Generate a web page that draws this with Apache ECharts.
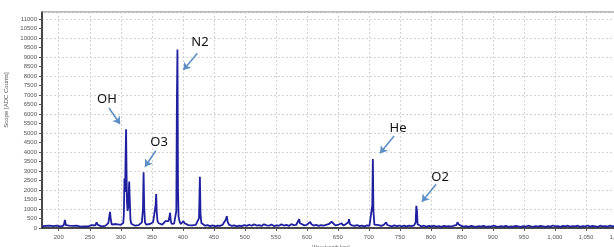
<!DOCTYPE html>
<html>
<head>
<meta charset="utf-8">
<script src="https://cdn.jsdelivr.net/npm/echarts@6/dist/echarts.min.js"></script>
<style>
html, body { margin: 0; padding: 0; background: #ffffff; }
#chart { width: 614px; height: 247px; }
</style>
</head>
<body>
<div id="chart"></div>
<script>
// spectrum: [wavelength nm, ADC counts]
const spectrum = [
  [173, 90], [176, 60], [179, 110], [182, 70], [185, 120], [188, 80], [191, 100], [194, 60], [197, 130], [200, 90],
  [203, 70], [206, 120], [208, 140], [210, 420], [211.5, 150], [214, 90], [217, 120], [220, 70], [223, 110], [226, 80],
  [229, 130], [232, 100], [235, 70], [238, 140], [241, 90], [244, 120], [247, 80], [250, 110], [253, 150], [256, 100],
  [259, 140], [261, 300], [263, 160], [266, 120], [269, 90], [272, 130], [275, 110], [278, 150], [280, 260], [281.5, 600],
  [282.7, 850], [284, 420], [285.5, 180], [288, 120], [290, 210], [292, 140], [295, 190], [297, 130], [300, 170], [302, 200],
  [304, 260], [305, 700], [306, 2600], [307, 1900], [308, 4200], [308.6, 5200], [309.3, 3000], [310, 1400], [311, 900], [312, 1100],
  [313.6, 2440], [314.6, 1400], [315.6, 450], [317, 220], [320, 160], [323, 120], [326, 180], [329, 150], [332, 200], [334, 300],
  [335.8, 1000], [336.8, 2930], [337.8, 1100], [339, 300], [341, 180], [344, 150], [347, 210], [350, 180], [352, 300], [353.5, 600],
  [354.8, 650], [356.2, 1200], [357.1, 1790], [358, 850], [359.2, 380], [361, 250], [364, 200], [367, 180], [370, 250], [372, 360],
  [373.8, 460], [375, 280], [377, 360], [378.6, 620], [379.6, 805], [380.6, 380], [382, 220], [384, 180], [386, 230], [388, 320],
  [389.6, 900], [390.5, 6700], [391.4, 9400], [392.3, 2000], [393.2, 600], [395, 320], [397, 210], [399, 260], [401, 360], [403, 250],
  [406, 200], [409, 150], [412, 190], [415, 140], [418, 210], [421, 170], [424, 230], [426.2, 520], [427.6, 2700], [428.6, 750],
  [430, 260], [433, 170], [436, 120], [440, 150], [444, 100], [448, 140], [452, 90], [456, 130], [460, 110], [464, 160],
  [467, 200], [469.5, 450], [471, 630], [472.5, 300], [475, 160], [479, 110], [483, 140], [487, 90], [491, 130], [495, 100],
  [499, 150], [503, 110], [507, 170], [511, 120], [515, 190], [519, 130], [523, 150], [527, 110], [531, 200], [535, 140],
  [539, 120], [543, 180], [547, 100], [551, 140], [555, 120], [559, 190], [563, 130], [567, 160], [571, 110], [575, 200],
  [579, 150], [583, 170], [586, 260], [587.6, 460], [589, 250], [592, 180], [596, 140], [600, 170], [603, 220], [605.5, 320],
  [607.5, 200], [611, 130], [615, 160], [619, 110], [623, 150], [627, 120], [631, 160], [635, 200], [638, 280], [640, 330],
  [642.5, 240], [646, 140], [650, 160], [653, 130], [656, 250], [658.5, 140], [662, 180], [665, 150], [667, 300], [668, 470],
  [669.5, 200], [673, 140], [677, 110], [681, 150], [685, 100], [689, 130], [693, 90], [697, 140], [701, 110], [704, 150],
  [705.6, 1200], [706.5, 3630], [707.4, 900], [709, 180], [712, 120], [716, 150], [720, 110], [724, 160], [726.5, 220], [728, 300],
  [729.5, 170], [733, 120], [737, 90], [741, 140], [745, 100], [749, 130], [753, 80], [757, 120], [761, 90], [765, 130],
  [769, 100], [773, 140], [775.5, 300], [776.6, 1170], [777.6, 900], [778.6, 200], [781, 110], [785, 80], [789, 120], [793, 70],
  [797, 110], [801, 80], [805, 120], [809, 70], [813, 100], [817, 60], [821, 110], [825, 80], [829, 100], [833, 70],
  [837, 120], [841, 150], [843, 300], [845, 180], [849, 110], [853, 70], [857, 100], [861, 60], [865, 110], [869, 80],
  [873, 60], [877, 100], [881, 70], [885, 110], [889, 60], [893, 90], [897, 70], [901, 120], [905, 80], [909, 60],
  [913, 100], [917, 70], [921, 110], [925, 60], [929, 90], [933, 70], [937, 110], [941, 80], [945, 60], [949, 100],
  [953, 70], [957, 120], [961, 80], [965, 60], [969, 100], [973, 70], [977, 110], [981, 90], [985, 60], [989, 100],
  [993, 70], [997, 130], [1001, 80], [1005, 100], [1009, 60], [1013, 110], [1017, 80], [1021, 120], [1025, 70], [1029, 100],
  [1033, 80], [1037, 120], [1041, 60], [1045, 100], [1049, 80], [1053, 130], [1057, 70], [1061, 110], [1065, 90], [1069, 60],
  [1073, 120], [1077, 80], [1081, 100], [1085, 70], [1089, 130], [1093, 90], [1097, 110], [1101, 80], [1105, 100]
];

const xTicks = [200, 250, 300, 350, 400, 450, 500, 550, 600, 650, 700, 750, 800, 850, 900, 950, 1000, 1050, 1100];
const yTicks = [0, 500, 1000, 1500, 2000, 2500, 3000, 3500, 4000, 4500, 5000, 5500, 6000, 6500, 7000, 7500, 8000, 8500, 9000, 9500, 10000, 10500, 11000];

// peak annotations (in data coordinates)
const peakNames = ['OH', 'O3', 'N2', 'He', 'O2'];
const nameAt = [[277.8, 6789], [361.7, 4526], [427.8, 9789], [747.2, 5263], [815, 2684]];
const arrowFrom = [[281, 6316], [356.4, 4068], [423.5, 9195], [740.7, 4842], [808.5, 2300]];
const arrowTo = [[298.8, 5474], [339.1, 3226], [400.9, 8316], [718.1, 3932], [785.5, 1384]];

const chart = echarts.init(document.getElementById('chart'));

const tickFont = { fontFamily: 'Liberation Sans', fontSize: 6, color: '#555555' };

chart.setOption({
  animation: false,
  grid: {
    left: 42, top: 12, width: 578, height: 216,
    outerBoundsMode: 'none',
    containLabel: false,
    show: true, borderColor: '#777777', borderWidth: 1
  },
  xAxis: {
    type: 'value', min: 173, max: 1105,
    name: 'Wavelength [nm]', nameLocation: 'middle', nameGap: 14,
    nameTextStyle: { fontFamily: 'Liberation Sans', fontSize: 5, color: '#666666' },
    axisLine: { show: true, lineStyle: { color: '#222222', width: 1.5 } },
    axisTick: { show: true, length: 3, customValues: xTicks, lineStyle: { color: '#555555' } },
    axisLabel: Object.assign({
      customValues: xTicks, margin: 6,
      formatter: v => v.toLocaleString('en-US')
    }, tickFont),
    splitLine: { show: true, lineStyle: { color: '#d4d4d4', type: [2, 2] } }
  },
  yAxis: [{
    type: 'value', min: 0, max: 11370,
    name: 'Scope [ADC Counts]', nameLocation: 'middle', nameGap: 27,
    nameTextStyle: { fontFamily: 'Liberation Sans', fontSize: 6, color: '#555555', padding: [0, 0, 0, 40] },
    axisLine: { show: true, lineStyle: { color: '#222222', width: 1.5 } },
    axisTick: { show: true, length: 3, customValues: yTicks, lineStyle: { color: '#555555' } },
    axisLabel: Object.assign({ customValues: yTicks, margin: 5, formatter: v => String(v) }, tickFont),
    splitLine: { show: false }
  }, {
    // only carries the horizontal grid lines every 1000
    type: 'value', min: 0, max: 11370, interval: 1000, position: 'left',
    axisLine: { show: false }, axisTick: { show: false }, axisLabel: { show: false },
    splitLine: { show: true, lineStyle: { color: '#d4d4d4', type: [2, 2] } }
  }],
  series: [{
    type: 'line',
    data: spectrum,
    showSymbol: false,
    symbol: 'none',
    lineStyle: { color: '#1f1fa0', width: 1.8 },
    markLine: {
      silent: true,
      symbol: ['none', 'arrow'],
      symbolSize: 7,
      label: { show: false },
      lineStyle: { color: '#5b8ec4', width: 1.5, type: 'solid' },
      data: peakNames.map((n, i) => [{ coord: arrowFrom[i] }, { coord: arrowTo[i] }])
    },
    markPoint: {
      silent: true,
      symbol: 'circle',
      symbolSize: 1,
      itemStyle: { color: 'rgba(0,0,0,0)' },
      label: {
        show: true, position: 'inside', formatter: '{b}',
        fontFamily: 'Noto Sans', fontSize: 13, color: '#111111'
      },
      data: peakNames.map((n, i) => ({ name: n, coord: nameAt[i] }))
    }
  }]
});
</script>
</body>
</html>
